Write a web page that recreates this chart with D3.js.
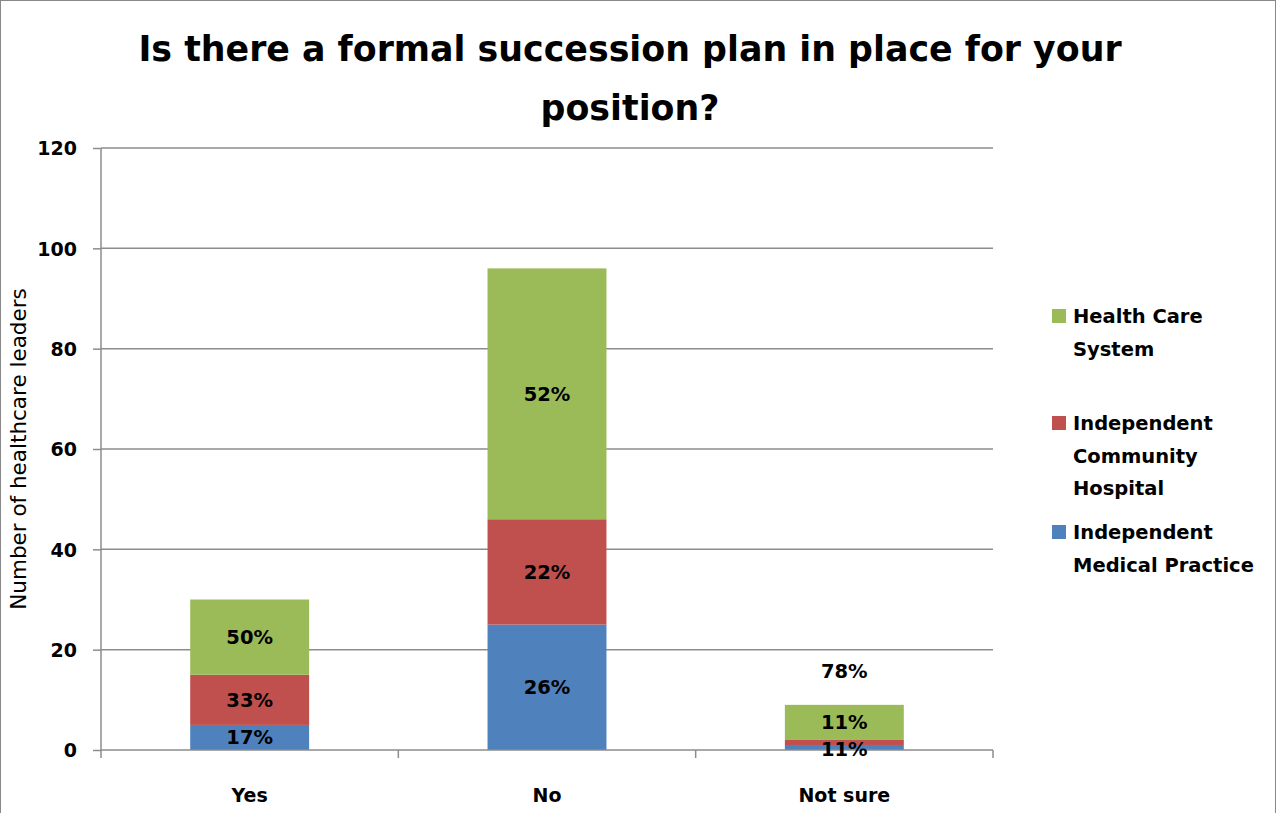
<!DOCTYPE html>
<html><head><meta charset="utf-8">
<script src="https://cdn.jsdelivr.net/npm/d3@7"></script>
<style>body{margin:0;background:#fff;} svg{display:block;}</style>
</head><body>
<svg id="chart" width="1276" height="813"></svg>
<script>
const categories = ["Yes", "No", "Not sure"];
const seriesNames = ["Independent Medical Practice", "Independent Community Hospital", "Health Care System"];
const medicalPractice = [5, 25, 1];
const communityHospital = [10, 21, 1];
const healthCareSystem = [15, 50, 7];
const labelsMedical = ["17%", "26%", "11%"];
const labelsHospital = ["33%", "22%", "11%"];
const labelsSystem = ["50%", "52%", "78%"];
const yTicks = [0, 20, 40, 60, 80, 100, 120];
const legendLines = [["Health Care", "System"], ["Independent", "Community", "Hospital"], ["Independent", "Medical Practice"]];

const colors = ["#4F81BD", "#C0504D", "#9BBB59"];
const font = "'DejaVu Sans', sans-serif";
const svg = d3.select("#chart");
const W = 1276, H = 813;
svg.append("rect").attr("x",0.5).attr("y",0.5).attr("width",W-1).attr("height",H+5)
  .attr("fill","#fff").attr("stroke","#888").attr("stroke-width",1);

const m = {left:101, right:993, top:148, bottom:750};
const x = d3.scaleBand().domain(categories).range([m.left, m.right]).paddingInner(0).paddingOuter(0);
const y = d3.scaleLinear().domain([0,120]).range([m.bottom, m.top]);

// gridlines
svg.append("g").selectAll("line").data(yTicks.filter(d=>d>0)).join("line")
  .attr("x1", m.left).attr("x2", m.right).attr("y1", d=>y(d)).attr("y2", d=>y(d))
  .attr("stroke","#8c8c8c").attr("stroke-width",1.5);

// stacked data
const rows = categories.map((c,i)=>({cat:c, s0:medicalPractice[i], s1:communityHospital[i], s2:healthCareSystem[i]}));
const stack = d3.stack().keys(["s0","s1","s2"])(rows);
const labelSets = [labelsMedical, labelsHospital, labelsSystem];
const bw = x.bandwidth()*0.4;

stack.forEach((layer, li)=>{
  svg.append("g").selectAll("rect").data(layer).join("rect")
    .attr("x", d=> x(d.data.cat) + (x.bandwidth()-bw)/2)
    .attr("width", bw)
    .attr("y", d=> y(d[1]))
    .attr("height", d=> y(d[0]) - y(d[1]))
    .attr("fill", colors[li]);
});

// axes
const yAxis = svg.append("g").attr("transform", `translate(${m.left},0)`)
  .call(d3.axisLeft(y).tickValues(yTicks).tickSize(8).tickPadding(16));
yAxis.select(".domain").attr("stroke","#8c8c8c").attr("stroke-width",1.5).attr("d", `M0,${m.top}V${m.bottom}`);
yAxis.selectAll(".tick line").attr("stroke","#8c8c8c").attr("stroke-width",1.5);
yAxis.selectAll(".tick text").attr("font-family",font).attr("font-weight","bold").attr("font-size",19).attr("fill","#000").attr("dy","0.36em");

const xAxis = svg.append("g").attr("transform", `translate(0,${m.bottom})`);
xAxis.append("line").attr("x1", m.left).attr("x2", m.right).attr("stroke","#8c8c8c").attr("stroke-width",1.5);
const boundaries = categories.map(c=>x(c)).concat([x(categories[categories.length-1])+x.bandwidth()]);
xAxis.selectAll("line.tk").data(boundaries).join("line").attr("class","tk")
  .attr("x1",d=>d).attr("x2",d=>d).attr("y1",0).attr("y2",8).attr("stroke","#8c8c8c").attr("stroke-width",1.5);
xAxis.selectAll("text").data(categories).join("text")
  .attr("x", d=>x(d)+x.bandwidth()/2).attr("y", 52)
  .attr("text-anchor","middle").attr("font-family",font).attr("font-weight","bold").attr("font-size",19).text(d=>d);

// data labels
const labelShift = [[0,0,0],[0,0,0],[1,-20,-51]]; // manual nudges (px) for crowded "Not sure" labels: [cat][series]
stack.forEach((layer, li)=>{
  svg.append("g").selectAll("text").data(layer).join("text")
    .attr("x", d=> x(d.data.cat) + x.bandwidth()/2)
    .attr("y", (d,i)=> (y(d[0])+y(d[1]))/2 + labelShift[i][li])
    .attr("dy","0.36em")
    .attr("text-anchor","middle").attr("font-family",font).attr("font-weight","bold").attr("font-size",19.5)
    .text((d,i)=> labelSets[li][i]);
});

// title
const title = svg.append("text").attr("text-anchor","middle").attr("font-family",font).attr("font-weight","bold").attr("font-size",34.8);
title.append("tspan").attr("x",630).attr("y",61).text("Is there a formal succession plan in place for your");
title.append("tspan").attr("x",630).attr("y",120).text("position?");

// y axis title
svg.append("text").attr("transform","translate(26,449) rotate(-90)").attr("text-anchor","middle")
  .attr("font-family",font).attr("font-size",21.5).text("Number of healthcare leaders");

// legend
const legendTop = [316, 423, 532];
const legendOrder = [2,1,0];
legendOrder.forEach((si, k)=>{
  const g = svg.append("g");
  g.append("rect").attr("x",1052).attr("y",legendTop[k]-7).attr("width",14).attr("height",14).attr("fill",colors[si]);
  legendLines[k].forEach((t,j)=>{
    g.append("text").attr("x",1073).attr("y",legendTop[k]+j*32.5).attr("dy","0.36em")
      .attr("font-family",font).attr("font-weight","bold").attr("font-size",19.5).text(t);
  });
});
</script>
</body></html>
